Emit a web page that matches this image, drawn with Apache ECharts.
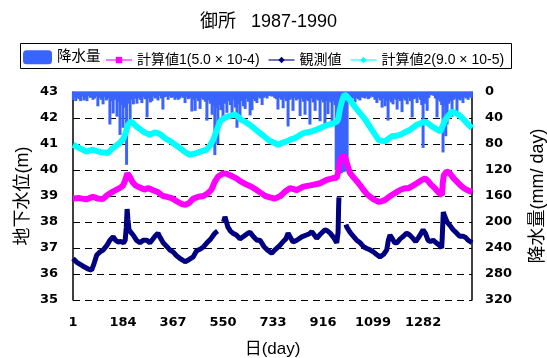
<!DOCTYPE html>
<html>
<head>
<meta charset="utf-8">
<script src="https://cdn.jsdelivr.net/npm/echarts@6/dist/echarts.min.js"></script>
<style>
  html, body { margin: 0; padding: 0; background: #fff; }
  #chart { width: 547px; height: 358px; }
</style>
</head>
<body>
<div id="chart"></div>
<script>
// Daily series, Gose 1987-1990. Day numbers run 1..1461.
const dayTicks = [1, 184, 367, 550, 733, 916, 1099, 1282];
const levelTicks = [35, 43];      // groundwater level axis range (m)
const rainTicks = [0, 320];       // rainfall axis range (mm/day), drawn downward

// Rainfall [day, mm/day]
const rainfall = [
  [1,12],[6,8],[11,14],[17,9],[23,11],[29,14],[35,7],[41,13],[47,10],[52,14],[58,6],[64,9],[70,8],[74,12],
  [80,10],[86,7],[92,22],[98,9],[104,12],[111,19],[117,8],[123,13],[129,10],[136,50],[142,14],[148,33],
  [155,12],[162,38],[167,15],[173,66],[178,20],[184,55],[190,24],[197,112],[203,18],[210,50],[216,12],
  [222,19],[228,10],[235,18],[241,9],[247,12],[253,17],[259,8],[265,11],[272,39],[278,10],[284,16],
  [290,14],[296,7],[302,10],[307,9],[312,13],[318,6],[324,10],[330,27],[336,8],[343,7],[349,12],[355,6],
  [361,9],[368,8],[374,12],[380,9],[386,12],[392,10],[398,7],[404,9],[411,17],[417,8],[423,11],[429,9],
  [436,30],[442,12],[448,29],[454,10],[460,14],[466,26],[472,9],[478,12],[485,15],[491,44],[497,13],
  [503,18],[510,35],[515,22],[520,97],[526,25],[531,80],[537,20],[542,28],[550,44],[557,18],[564,32],
  [570,14],[577,20],[583,36],[589,12],[595,24],[601,55],[607,19],[612,45],[618,14],[625,22],[631,26],
  [637,10],[643,15],[649,36],[656,28],[662,11],[668,14],[674,17],[680,8],[686,10],[693,20],[699,9],
  [705,7],[711,10],[717,6],[723,5],[728,7],[733,6],[739,9],[745,11],[751,27],[757,9],[763,12],[770,25],
  [776,10],[782,14],[788,53],[794,12],[800,10],[806,29],[812,9],[818,13],[825,11],[832,37],[838,10],
  [844,15],[850,35],[856,12],[862,14],[868,50],[874,10],[880,16],[887,29],[893,11],[899,13],[905,45],
  [911,12],[917,16],[923,50],[929,14],[934,34],[940,12],[944,16],[949,48],[955,14],[960,20],[964,120],
  [968,123],[972,118],[976,124],[980,121],[984,125],[988,119],[992,123],[996,122],[1000,117],[1004,110],
  [1009,12],[1015,12],[1021,8],[1027,10],[1033,16],[1039,9],[1045,11],[1051,13],[1057,8],[1063,9],
  [1070,10],[1076,7],[1082,11],[1088,9],[1094,6],[1100,8],[1106,12],[1113,17],[1119,9],[1125,13],
  [1132,24],[1138,10],[1143,22],[1149,14],[1154,44],[1160,12],[1166,16],[1172,19],[1178,10],[1183,12],
  [1187,27],[1193,11],[1199,14],[1205,31],[1211,10],[1217,13],[1224,19],[1230,9],[1236,14],[1242,39],
  [1248,11],[1254,10],[1260,17],[1266,8],[1272,12],[1277,20],[1282,86],[1287,18],[1292,12],[1297,29],
  [1303,9],[1309,5],[1315,4],[1321,6],[1327,10],[1333,39],[1339,12],[1345,15],[1350,20],[1355,93],
  [1361,22],[1365,68],[1370,50],[1376,18],[1382,14],[1388,38],[1394,12],[1400,10],[1406,30],[1412,11],
  [1418,13],[1424,9],[1428,17],[1434,8],[1440,10],[1447,12],[1453,7],[1458,9]
];

// Computed level, case 1 (5.0 x 10^-4) [day, m]
const calc1 = [
  [1,38.9],[25,38.92],[50,38.87],[74,38.97],[92,38.9],[110,38.88],[128,39.05],[147,39.17],[171,39.3],
  [184,39.4],[192,39.6],[200,39.87],[208,39.75],[218,39.55],[230,39.4],[246,39.33],[262,39.25],[278,39.3],
  [294,39.22],[312,39.15],[330,39.0],[345,38.97],[362,38.92],[380,38.8],[398,38.7],[411,38.66],[425,38.72],
  [441,38.9],[460,38.97],[478,39.0],[494,39.1],[508,39.25],[520,39.55],[532,39.75],[551,39.87],[565,39.85],
  [580,39.78],[599,39.68],[616,39.55],[634,39.45],[654,39.36],[670,39.25],[688,39.12],[705,39.0],[722,38.95],
  [740,38.9],[760,39.0],[777,39.17],[795,39.3],[820,39.23],[844,39.36],[874,39.42],[905,39.49],[929,39.62],
  [950,39.68],[966,39.7],[972,39.95],[978,40.35],[988,40.55],[996,40.5],[1005,40.2],[1014,39.9],[1027,39.72],
  [1039,39.58],[1051,39.42],[1063,39.25],[1076,39.08],[1088,38.97],[1105,38.85],[1119,38.78],[1131,38.8],
  [1143,38.85],[1155,38.95],[1168,39.04],[1185,39.15],[1198,39.23],[1215,39.3],[1229,39.3],[1245,39.4],
  [1259,39.49],[1275,39.6],[1290,39.68],[1300,39.58],[1310,39.45],[1325,39.3],[1340,39.12],[1351,39.04],
  [1354,39.5],[1358,39.8],[1368,39.94],[1378,39.9],[1394,39.68],[1406,39.55],[1418,39.42],[1432,39.3],
  [1443,39.23],[1461,39.15]
];

// Observed level [day, m]; null marks missing records
const observed = [
  [1,36.6],[15,36.45],[38,36.3],[55,36.2],[69,36.15],[78,36.4],[88,36.73],[100,36.85],[111,36.92],
  [125,37.1],[136,37.3],[148,37.43],[157,37.3],[166,37.23],[176,37.25],[186,37.2],[192,37.3],[196,37.8],
  [199,38.5],[202,38.1],[206,37.7],[213,37.6],[221,37.5],[233,37.3],[246,37.2],[258,37.3],[271,37.3],
  [282,37.2],[290,37.3],[301,37.45],[312,37.57],[320,37.4],[331,37.2],[345,37.05],[356,36.92],[367,36.85],
  [380,36.7],[395,36.58],[411,36.47],[425,36.55],[441,36.66],[454,36.9],[466,36.95],[479,37.05],[491,37.2],
  [505,37.35],[520,37.57],[530,37.65],[541,null],[552,38.0],[557,38.2],[563,38.15],[568,37.8],[577,37.65],
  [586,37.57],[599,37.5],[612,37.35],[626,37.45],[641,37.57],[649,37.6],[660,37.45],[674,37.3],[685,37.3],
  [700,37.05],[715,36.9],[728,36.8],[742,36.95],[758,37.1],[770,37.25],[780,37.35],[788,37.57],[797,37.4],
  [806,37.23],[820,37.3],[838,37.43],[855,37.5],[866,37.55],[875,37.63],[884,37.5],[893,37.37],[908,37.55],
  [923,37.7],[933,37.65],[942,37.57],[955,37.4],[966,37.2],[970,37.15],[971,37.6],[972,38.1],[973,38.6],
  [974,38.95],[987,null],[1000,37.9],[1003,37.8],[1015,37.6],[1027,37.45],[1039,37.3],[1052,37.2],
  [1064,37.05],[1076,36.98],[1088,36.93],[1100,36.85],[1112,36.75],[1124,36.66],[1137,36.75],[1149,36.93],
  [1155,37.3],[1161,37.5],[1170,37.35],[1178,37.2],[1186,37.2],[1198,37.35],[1210,37.45],[1222,37.57],
  [1233,37.5],[1245,37.37],[1255,37.25],[1265,37.4],[1274,37.55],[1282,37.7],[1291,37.55],[1300,37.3],
  [1309,37.25],[1319,37.3],[1330,37.2],[1342,37.1],[1350,37.0],[1352,37.4],[1354,37.9],[1356,38.38],
  [1362,38.2],[1370,38.0],[1380,37.87],[1392,37.7],[1405,37.57],[1416,37.45],[1428,37.45],[1438,37.4],
  [1447,37.3],[1461,37.2]
];

// Computed level, case 2 (9.0 x 10^-5) [day, m]
const calc2 = [
  [1,40.97],[25,40.84],[50,40.71],[74,40.78],[90,40.72],[105,40.68],[128,40.65],[147,40.84],[171,41.03],
  [185,41.2],[193,41.4],[202,41.74],[214,41.87],[233,41.68],[257,41.48],[282,41.35],[300,41.45],[312,41.42],
  [324,41.35],[340,41.2],[356,41.12],[371,41.0],[386,40.9],[410,40.7],[429,40.58],[441,40.62],[453,40.65],
  [470,40.72],[490,40.78],[503,40.95],[514,41.16],[526,41.5],[539,41.87],[555,42.0],[569,42.06],[593,42.13],
  [605,42.05],[617,41.93],[632,41.85],[648,41.74],[664,41.6],[678,41.48],[700,41.3],[721,41.12],[737,41.05],
  [752,40.97],[768,41.05],[783,41.1],[798,41.18],[813,41.23],[828,41.32],[844,41.42],[859,41.45],[874,41.48],
  [890,41.55],[905,41.61],[920,41.68],[935,41.74],[955,41.8],[968,41.87],[972,42.0],[978,42.35],[985,42.65],
  [994,42.9],[1002,42.85],[1012,42.72],[1022,42.58],[1035,42.4],[1051,42.19],[1070,41.95],[1088,41.65],
  [1104,41.4],[1119,41.16],[1131,41.12],[1143,41.1],[1155,41.2],[1168,41.3],[1183,41.32],[1198,41.35],
  [1215,41.45],[1235,41.55],[1247,41.65],[1259,41.74],[1275,41.8],[1290,41.87],[1302,41.78],[1314,41.68],
  [1330,41.58],[1345,41.48],[1354,41.7],[1363,41.93],[1375,42.1],[1388,42.25],[1400,42.2],[1412,42.13],
  [1425,42.0],[1437,41.87],[1450,41.72],[1461,41.61]
];

const names = {
  rain: '降水量',
  calc1: '計算値1(5.0 × 10-4)',
  obs: '観測値',
  calc2: '計算値2(9.0 × 10-5)'
};

const latin = "'Liberation Sans', 'Noto Sans CJK JP', sans-serif";
const tickFont = { fontFamily: "'DejaVu Sans', sans-serif", fontWeight: 'bold', fontSize: 13, color: '#000' };
const nameFont = { fontFamily: latin, fontSize: 18, color: '#000' };

const chart = echarts.init(document.getElementById('chart'), null, { renderer: 'canvas' });

chart.setOption({
  animation: false,
  backgroundColor: '#fff',
  title: {
    text: '御所   1987-1990',
    left: 200,
    top: 13,
    padding: 0,
    textStyle: { fontFamily: latin, fontSize: 18, fontWeight: 'normal', color: '#000' }
  },
  graphic: [{
    type: 'rect',
    shape: { x: 20.5, y: 43.5, width: 491, height: 25 },
    style: { fill: 'none', stroke: '#000', lineWidth: 1 },
    silent: true
  }],
  legend: [
    {
      data: [names.rain],
      left: 23, top: 50, padding: 0,
      itemWidth: 29, itemHeight: 14,
      textStyle: { fontFamily: latin, fontSize: 14.5, color: '#000' }
    },
    {
      data: [names.calc1, names.obs, names.calc2],
      left: 105, top: 53, padding: 0,
      itemWidth: 26, itemHeight: 8, itemGap: 8,
      lineStyle: { width: 2, opacity: 0.55 },
      textStyle: { fontFamily: latin, fontSize: 14, color: '#000' }
    }
  ],
  grid: { left: 73, right: 75, top: 92, bottom: 58, outerBoundsMode: 'none' },
  xAxis: {
    type: 'value',
    min: dayTicks[0],
    max: 1461,
    name: '日(day)',
    nameLocation: 'middle',
    nameGap: 41,
    nameMoveOverlap: false,
    nameTextStyle: { fontFamily: latin, fontSize: 17, color: '#000' },
    axisLine: { show: true, lineStyle: { color: '#777', width: 1.5 } },
    axisTick: { show: false },
    splitLine: { show: false },
    axisLabel: Object.assign({ customValues: dayTicks, margin: 16, formatter: v => String(v) }, tickFont)
  },
  yAxis: [
    {
      type: 'value',
      min: levelTicks[0], max: levelTicks[1], interval: 1,
      name: '地下水位(m)',
      nameLocation: 'middle',
      nameGap: 41,
      nameMoveOverlap: false,
      nameTextStyle: nameFont,
      axisLine: { show: true, lineStyle: { color: '#000', width: 1.5 } },
      axisTick: { show: false },
      axisLabel: Object.assign({ margin: 15 }, tickFont),
      splitLine: { show: true, lineStyle: { color: '#000', type: [7, 5], width: 1 } }
    },
    {
      type: 'value',
      min: rainTicks[0], max: rainTicks[1], interval: 40,
      inverse: true,
      position: 'right',
      name: '降水量(mm/ day)',
      nameLocation: 'middle',
      nameRotate: 90,
      nameGap: 57,
      nameMoveOverlap: false,
      nameTextStyle: nameFont,
      axisLine: { show: true, lineStyle: { color: '#000', width: 1.5 } },
      axisTick: { show: false },
      axisLabel: Object.assign({ margin: 13 }, tickFont),
      splitLine: { show: false }
    }
  ],
  series: [
    {
      name: names.rain,
      type: 'bar',
      yAxisIndex: 1,
      barWidth: 3,
      itemStyle: { color: '#3A64FF' },
      data: rainfall,
      z: 1
    },
    {
      name: names.calc1,
      type: 'line',
      symbol: 'rect',
      showSymbol: false,
      itemStyle: { color: '#FF00FF' },
      lineStyle: { color: '#FF00FF', width: 6 },
      data: calc1,
      z: 3
    },
    {
      name: names.obs,
      type: 'line',
      symbol: 'diamond',
      showSymbol: false,
      itemStyle: { color: '#000080' },
      lineStyle: { color: '#000080', width: 5 },
      data: observed,
      z: 3
    },
    {
      name: names.calc2,
      type: 'line',
      symbol: 'diamond',
      showSymbol: false,
      itemStyle: { color: '#00FFFF' },
      lineStyle: { color: '#00FFFF', width: 6 },
      data: calc2,
      z: 3
    }
  ]
});
</script>
</body>
</html>
